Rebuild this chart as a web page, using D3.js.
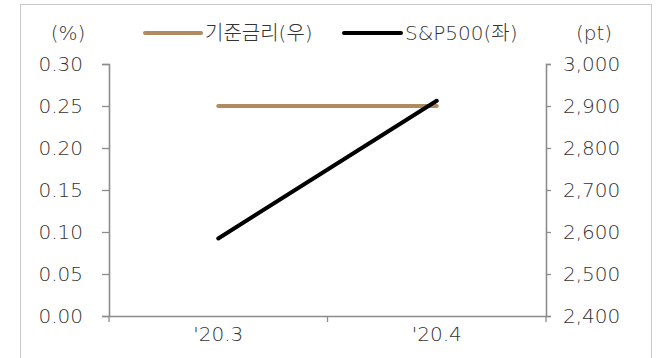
<!DOCTYPE html>
<html><head><meta charset="utf-8">
<script src="https://cdn.jsdelivr.net/npm/d3@7"></script>
<style>
body{margin:0;background:#fff;}
text{font-family:"DejaVu Sans","Noto Sans CJK KR",sans-serif;font-weight:200;fill:#333;}
</style></head>
<body><svg id="c" width="660" height="358"></svg>
<script>
const categories = ["'20.3", "'20.4"];
const rateValues = [0.25, 0.25];          // 기준금리, left axis (%)
const spxValues = [2584.59, 2912.43];     // S&P500, right axis (pt)
const leftTicks = [0, 0.05, 0.10, 0.15, 0.20, 0.25, 0.30];
const rightTicks = [2400, 2500, 2600, 2700, 2800, 2900, 3000];
const legendLabels = ["기준금리(우)", "S&P500(좌)"];
const unitLabels = ["(%)", "(pt)"];

const FONT = '"DejaVu Sans","Noto Sans CJK KR",sans-serif';
const svg = d3.select("#c");
const L = 109, R = 546, T = 64, B = 316;
const axisColor = "#8c8c8c";

svg.append("rect").attr("x",20.5).attr("y",4.5).attr("width",631).attr("height",400)
  .attr("fill","none").attr("stroke","#c8c8c8").attr("stroke-width",1);

const x = d3.scaleBand().domain(categories).range([L,R]);
const yL = d3.scaleLinear().domain([0,0.30]).range([B,T]);
const yR = d3.scaleLinear().domain([2400,3000]).range([B,T]);

const gL = svg.append("g").attr("transform",`translate(${L},0)`)
  .call(d3.axisLeft(yL).tickValues(leftTicks).tickFormat(d3.format(".2f")).tickSize(7).tickPadding(19));
const gR = svg.append("g").attr("transform",`translate(${R},0)`)
  .call(d3.axisRight(yR).tickValues(rightTicks).tickFormat(d3.format(",")).tickSize(5).tickPadding(12));
const gB = svg.append("g").attr("transform",`translate(0,${B})`)
  .call(d3.axisBottom(x).tickSize(0).tickPadding(11));
gB.selectAll(".bt").data(d3.range(categories.length+1)).enter().append("line")
  .attr("x1",i=>L+i*x.step()).attr("x2",i=>L+i*x.step()).attr("y1",0).attr("y2",6)
  .attr("stroke",axisColor).attr("stroke-width",1.3);

[gL,gR,gB].forEach(g=>{
  g.select(".domain").attr("stroke",axisColor).attr("stroke-width",1.6);
  g.selectAll(".tick line").attr("stroke",axisColor).attr("stroke-width",1.3);
  g.selectAll(".tick text").style("font-size","20px").style("font-family",FONT).style("font-weight",200).attr("fill","#333");
});

const cx = d => x(d)+x.bandwidth()/2;
const line = d3.line();
svg.append("path").attr("d", line(categories.map((c,i)=>[cx(c), yL(rateValues[i])])))
  .attr("fill","none").attr("stroke","#b08b62").attr("stroke-width",4).attr("stroke-linecap","round");
svg.append("path").attr("d", line(categories.map((c,i)=>[cx(c), yR(spxValues[i])])))
  .attr("fill","none").attr("stroke","#000").attr("stroke-width",4).attr("stroke-linecap","round");

const ly = 33;
svg.append("text").attr("x",68).attr("y",ly).attr("dy","0.35em").attr("text-anchor","middle").style("font-size","20px").text(unitLabels[0]);
svg.append("text").attr("x",594).attr("y",ly).attr("dy","0.35em").attr("text-anchor","middle").style("font-size","20px").text(unitLabels[1]);
const leg = [{c:"#b08b62",x1:145,x2:201,tx:205},{c:"#000",x1:344,x2:401,tx:405}];
leg.forEach((l,i)=>{
  svg.append("line").attr("x1",l.x1).attr("x2",l.x2).attr("y1",ly).attr("y2",ly)
    .attr("stroke",l.c).attr("stroke-width",4).attr("stroke-linecap","round");
  svg.append("text").attr("x",l.tx).attr("y",ly).attr("dy","0.35em").style("font-size","20px").text(legendLabels[i]);
});
</script></body></html>
